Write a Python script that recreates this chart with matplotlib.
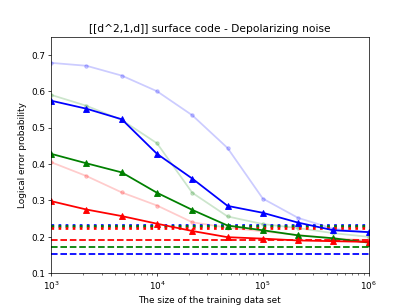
import numpy as np
import matplotlib
matplotlib.use("Agg")
import matplotlib.pyplot as plt

# training set sizes, 1e3 .. 1e6 in steps of 10^(1/3)
sizes = [1e3, 2154, 4642, 1e4, 21544, 46416, 1e5, 215443, 464159, 1e6]

# decoder results (triangles) per distance
err_blue = [0.574, 0.552, 0.523, 0.428, 0.360, 0.285, 0.266, 0.239, 0.218, 0.213]
err_green = [0.428, 0.402, 0.377, 0.321, 0.274, 0.231, 0.218, 0.204, 0.196, 0.184]
err_red = [0.298, 0.275, 0.257, 0.236, 0.216, 0.199, 0.195, 0.190, 0.188, 0.186]

# faded curves (circles)
err_blue_light = [0.678, 0.670, 0.643, 0.600, 0.534, 0.444, 0.305, 0.252, 0.222, 0.212]
err_green_light = [0.590, 0.560, 0.521, 0.457, 0.321, 0.256, 0.235, 0.224, 0.210, 0.200]
err_red_light = [0.405, 0.367, 0.322, 0.286, 0.240, 0.225, 0.215, 0.205, 0.196, 0.190]

# reference levels
dotted_levels = {"b": 0.232, "g": 0.229, "r": 0.225}
dashed_levels = {"r": 0.190, "g": 0.173, "b": 0.153}

fig, ax = plt.subplots(figsize=(6.4, 4.8), dpi=64)

for c, v in [("b", err_blue_light), ("g", err_green_light), ("r", err_red_light)]:
    ax.plot(sizes, v, color=c, marker="o", markersize=4, linewidth=2, alpha=0.2)

for c, v in dotted_levels.items():
    ax.axhline(v, color=c, linestyle=":", linewidth=3)
for c, v in dashed_levels.items():
    ax.axhline(v, color=c, linestyle="--", linewidth=2)

for c, v in [("b", err_blue), ("g", err_green), ("r", err_red)]:
    ax.plot(sizes, v, color=c, marker="^", markersize=7, linewidth=2)

ax.set_xscale("log")
ax.set_xlim(1e3, 1e6)
ax.set_ylim(0.1, 0.75)
ax.set_title("[[d^2,1,d]] surface code - Depolarizing noise")
ax.set_xlabel("The size of the training data set")
ax.set_ylabel("Logical error probability")

fig.savefig("out.png", dpi=64)
